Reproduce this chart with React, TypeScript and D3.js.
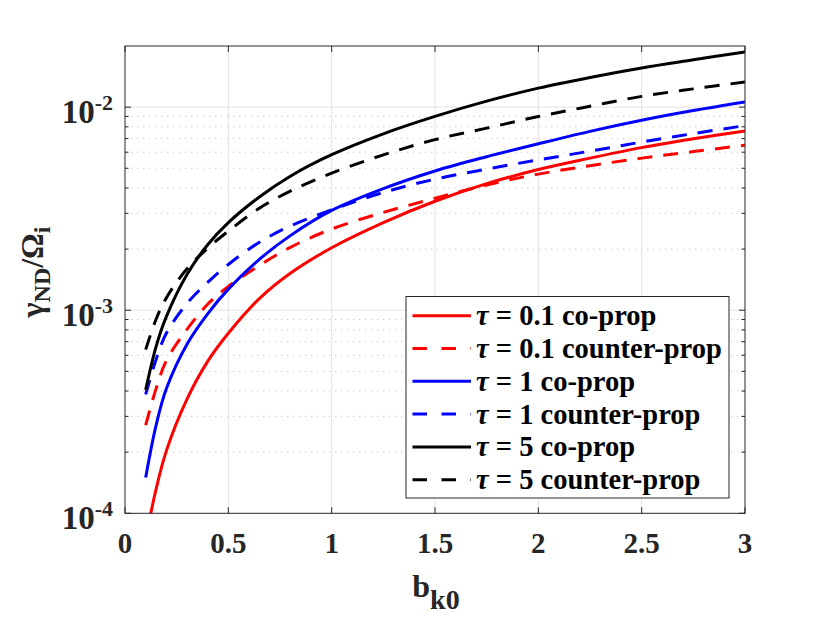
import * as d3 from "d3";

// b_k0 sample points
const bk0 = [0.1, 0.15, 0.2, 0.3, 0.4, 0.5, 0.65, 0.8, 1, 1.25, 1.5, 1.75, 2, 2.25, 2.5, 2.75, 3];

// growth rate gamma_ND / Omega_i
const tau01Co = [7.5e-5, 1.31e-4, 2.03e-4, 3.65e-4, 5.6e-4, 7.7e-4, 1.14e-3, 1.52e-3, 2.03e-3, 2.7e-3, 3.44e-3, 4.2e-3, 4.93e-3, 5.61e-3, 6.32e-3, 6.98e-3, 7.64e-3];
const tau01Counter = [2.72e-4, 4.1e-4, 5.65e-4, 8.05e-4, 1.07e-3, 1.31e-3, 1.66e-3, 2.04e-3, 2.51e-3, 3.03e-3, 3.56e-3, 4.14e-3, 4.68e-3, 5.15e-3, 5.61e-3, 6.04e-3, 6.5e-3];
const tau1Co = [1.5e-4, 2.7e-4, 4.1e-4, 6.8e-4, 9.6e-4, 1.27e-3, 1.78e-3, 2.33e-3, 3.1e-3, 3.97e-3, 4.85e-3, 5.7e-3, 6.6e-3, 7.6e-3, 8.62e-3, 9.62e-3, 1.06e-2];
const tau1Counter = [3.85e-4, 5.7e-4, 7.7e-4, 1.08e-3, 1.37e-3, 1.68e-3, 2.16e-3, 2.6e-3, 3.12e-3, 3.8e-3, 4.42e-3, 4.95e-3, 5.5e-3, 6.07e-3, 6.73e-3, 7.41e-3, 8.11e-3];
const tau5Co = [4.05e-4, 6.6e-4, 9.3e-4, 1.5e-3, 2.1e-3, 2.7e-3, 3.61e-3, 4.57e-3, 5.83e-3, 7.39e-3, 9.0e-3, 1.07e-2, 1.24e-2, 1.4e-2, 1.56e-2, 1.71e-2, 1.87e-2];
const tau5Counter = [6.4e-4, 9.0e-4, 1.15e-3, 1.6e-3, 2.02e-3, 2.45e-3, 3.18e-3, 3.86e-3, 4.73e-3, 5.82e-3, 6.92e-3, 7.88e-3, 8.99e-3, 1.01e-2, 1.13e-2, 1.23e-2, 1.33e-2];

const xTicks = [0, 0.5, 1, 1.5, 2, 2.5, 3];
const xTickLabels = ["0", "0.5", "1", "1.5", "2", "2.5", "3"];
const yDecades = [-4, -3, -2];

const series = [
  { tau: "0.1", kind: "co-prop", color: "#ff0000", dashed: false, values: tau01Co },
  { tau: "0.1", kind: "counter-prop", color: "#ff0000", dashed: true, values: tau01Counter },
  { tau: "1", kind: "co-prop", color: "#0000ff", dashed: false, values: tau1Co },
  { tau: "1", kind: "counter-prop", color: "#0000ff", dashed: true, values: tau1Counter },
  { tau: "5", kind: "co-prop", color: "#000000", dashed: false, values: tau5Co },
  { tau: "5", kind: "counter-prop", color: "#000000", dashed: true, values: tau5Counter },
];

const W = 822;
const H = 617;
const margin = { top: 46, right: 77, bottom: 103.7, left: 125 };
const FONT = "'Liberation Serif', 'Times New Roman', serif";
const AXIS = "#262626";

export default function App() {
  const x = d3.scaleLinear().domain([0, 3]).range([margin.left, W - margin.right]);
  const y = d3.scaleLog().domain([1e-4, 2e-2]).range([H - margin.bottom, margin.top]);
  const [x0, x1] = x.range();
  const [y0, y1] = y.range();

  const line = d3
    .line<number>()
    .x((_, i) => x(bk0[i]))
    .y((d) => y(d))
    .curve(d3.curveCatmullRom.alpha(0.5));

  const minor: number[] = [];
  for (const e of yDecades) {
    for (let k = 2; k <= 9; k++) {
      const v = k * Math.pow(10, e);
      if (v < 2e-2) minor.push(v);
    }
  }
  const major = yDecades.map((e) => Math.pow(10, e));

  const legendX = 406;
  const legendY = 296.5;
  const rowH = 32.8;

  return (
    <svg
      width={W}
      height={H}
      style={{ position: "absolute", left: 0, top: 0, background: "#fff" }}
      fontFamily={FONT}
      fontWeight="bold"
    >
      <defs>
        <clipPath id="plot-clip">
          <rect x={x0} y={y1} width={x1 - x0} height={y0 - y1} />
        </clipPath>
      </defs>

      {/* grid */}
      {minor.map((v) => (
        <line key={`mg${v}`} x1={x0} x2={x1} y1={y(v)} y2={y(v)} stroke="#c8c8c8" strokeWidth={1} strokeDasharray="1.2,4.8" />
      ))}
      {xTicks.slice(1, -1).map((t) => (
        <line key={`gx${t}`} x1={x(t)} x2={x(t)} y1={y0} y2={y1} stroke="#e3e3e3" strokeWidth={1} />
      ))}
      {major.slice(1).map((v) => (
        <line key={`gy${v}`} x1={x0} x2={x1} y1={y(v)} y2={y(v)} stroke="#e3e3e3" strokeWidth={1} />
      ))}

      {/* curves */}
      <g clipPath="url(#plot-clip)">
        {series.map((s, i) => (
          <path
            key={i}
            d={line(s.values) ?? ""}
            fill="none"
            stroke={s.color}
            strokeWidth={3}
            strokeDasharray={s.dashed ? "15,11" : undefined}
          />
        ))}
      </g>

      {/* box and ticks */}
      <rect x={x0} y={y1} width={x1 - x0} height={y0 - y1} fill="none" stroke={AXIS} strokeWidth={1} />
      {xTicks.map((t) => (
        <g key={`xt${t}`} stroke={AXIS}>
          <line x1={x(t)} x2={x(t)} y1={y0} y2={y0 - 6} />
          <line x1={x(t)} x2={x(t)} y1={y1} y2={y1 + 6} />
        </g>
      ))}
      {major.map((v) => (
        <g key={`yt${v}`} stroke={AXIS}>
          <line x1={x0} x2={x0 + 6} y1={y(v)} y2={y(v)} />
          <line x1={x1} x2={x1 - 6} y1={y(v)} y2={y(v)} />
        </g>
      ))}
      {minor.map((v) => (
        <g key={`ym${v}`} stroke={AXIS}>
          <line x1={x0} x2={x0 + 3.5} y1={y(v)} y2={y(v)} />
          <line x1={x1} x2={x1 - 3.5} y1={y(v)} y2={y(v)} />
        </g>
      ))}

      {/* tick labels */}
      {xTicks.map((t, i) => (
        <text key={`xl${t}`} x={x(t)} y={553} textAnchor="middle" fontSize={29} fill={AXIS}>
          {xTickLabels[i]}
        </text>
      ))}
      {yDecades.map((e) => (
        <text key={`yl${e}`} x={113} y={y(Math.pow(10, e)) + 16} textAnchor="end" fontSize={33} fill={AXIS}>
          10
          <tspan fontSize={22} dy={-13}>
            {String(e)}
          </tspan>
        </text>
      ))}

      {/* axis labels */}
      <text x={436} y={597} textAnchor="middle" fontSize={32} fill={AXIS}>
        b<tspan fontSize={28} dy={12}>k0</tspan>
      </text>
      <text transform="translate(43,272) rotate(-90)" textAnchor="middle" fontSize={32} fill={AXIS}>
        γ<tspan fontSize={24} dy={7}>ND</tspan>
        <tspan dy={-7}>/Ω</tspan>
        <tspan fontSize={24} dy={7}>i</tspan>
      </text>

      {/* legend */}
      <rect x={legendX} y={legendY} width={323} height={201.5} fill="#fff" stroke={AXIS} strokeWidth={1} />
      {series.map((s, i) => {
        const cy = legendY + 19.2 + i * rowH;
        return (
          <g key={`lg${i}`}>
            <line
              x1={legendX + 6.5}
              x2={legendX + 65}
              y1={cy}
              y2={cy}
              stroke={s.color}
              strokeWidth={3}
              strokeDasharray={s.dashed ? "14.5,14.5" : undefined}
            />
            <text x={legendX + 70} y={cy + 9.5} fontSize={28.5} fill="#000">
              <tspan fontStyle="italic">τ</tspan> = {s.tau} {s.kind}
            </text>
          </g>
        );
      })}
    </svg>
  );
}
